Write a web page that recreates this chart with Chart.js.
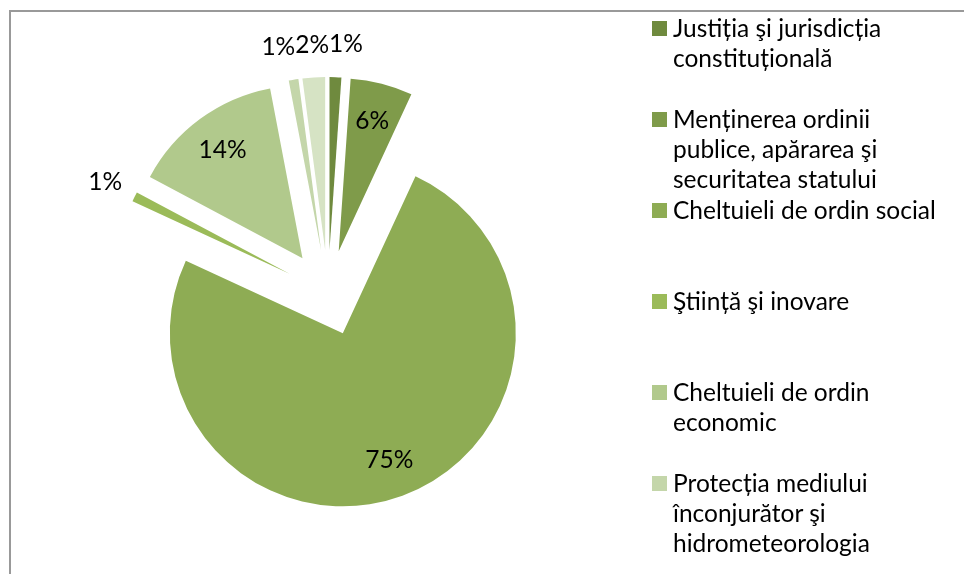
<!DOCTYPE html>
<html>
<head>
<meta charset="utf-8">
<script src="https://cdn.jsdelivr.net/npm/chart.js@4.4.1/dist/chart.umd.min.js"></script>
<style>
    html, body { margin: 0; padding: 0; background: #fff; overflow: hidden; }
    #wrap { position: relative; width: 964px; height: 574px; overflow: hidden; }
    #frame {
        position: absolute; left: 9px; top: 10px; right: -10px; bottom: -10px;
        border-top: 2px solid #999; border-left: 2px solid #999;
    }
    #pie { position: absolute; left: 0; top: 0; }
    /* the original legend runs past the bottom edge: only six entries show */
    #legend { position: absolute; left: 0; top: 0; width: 964px; height: 560px; overflow: hidden; }
    .item { position: absolute; left: 652px; font: 24.5px Lato, sans-serif; line-height: 30px; color: #000; }
    .box { position: absolute; left: 0; top: 8px; width: 15px; height: 15px; }
    .txt { position: absolute; left: 21px; top: 0; white-space: nowrap; }
</style>
</head>
<body>
<div id="wrap">
    <div id="frame"></div>
    <canvas id="pie" width="964" height="574"></canvas>
    <div id="legend"></div>
</div>
<script>
// categories in drawing order (clockwise from 12 o'clock)
const categories = [
    ["Justiția şi jurisdicția", "constituțională"],
    ["Menținerea ordinii", "publice, apărarea şi", "securitatea statului"],
    ["Cheltuieli de ordin social"],
    ["Ştiință şi inovare"],
    ["Cheltuieli de ordin", "economic"],
    ["Protecția mediului", "înconjurător şi", "hidrometeorologia"],
    ["Alte cheltuieli"],
];
const shares = [1.1, 5.8, 75.0, 0.9, 14.2, 0.9, 2.1];
const sliceColors = ["#6F8A3E", "#7F9B4A", "#8EAC54", "#9BBB59", "#B1C98C", "#C4D6AA", "#D6E3C4"];

// pull every slice out from the centre (the library draws the arc, we just shift it)
const explodePlugin = {
    id: "explode",
    beforeDatasetDraw(chart, args, opts) {
        const ctx = chart.ctx;
        args.meta.data.forEach((arc) => {
            const mid = (arc.startAngle + arc.endAngle) / 2;
            ctx.save();
            ctx.translate(Math.cos(mid) * opts.distance, Math.sin(mid) * opts.distance);
            arc.draw(ctx);
            ctx.restore();
        });
        return false;
    },
};

// percentage labels, small slices get theirs outside the pie
const pctLabels = {
    id: "pctLabels",
    afterDatasetsDraw(chart, args, opts) {
        const ctx = chart.ctx;
        const meta = chart.getDatasetMeta(0);
        const values = chart.data.datasets[0].data;
        const total = values.reduce((a, b) => a + b, 0);
        const shift = chart.options.plugins.explode.distance;

        ctx.save();
        ctx.font = opts.font;
        const items = meta.data.map((arc, i) => {
            const mid = (arc.startAngle + arc.endAngle) / 2;
            const pct = (values[i] / total) * 100;
            const outside = pct < opts.minInside;
            const r = shift + arc.outerRadius * (outside ? opts.outside : opts.inside);
            const text = Math.round(pct) + "%";
            return {
                text,
                outside,
                x: arc.x + Math.cos(mid) * r,
                y: arc.y + Math.sin(mid) * r,
                w: ctx.measureText(text).width,
            };
        });

        // spread outside labels that sit on top of each other
        const out = items.filter((it) => it.outside).sort((a, b) => a.x - b.x);
        for (let pass = 0; pass < 20; pass++) {
            for (let k = 1; k < out.length; k++) {
                const a = out[k - 1];
                const b = out[k];
                const need = (a.w + b.w) / 2 - (b.x - a.x);
                if (need > 0 && Math.abs(a.y - b.y) < 24) {
                    a.x -= need / 2;
                    b.x += need / 2;
                }
            }
        }

        ctx.fillStyle = "#000";
        ctx.textAlign = "center";
        ctx.textBaseline = "middle";
        items.forEach((it) => ctx.fillText(it.text, it.x, it.y));
        ctx.restore();
    },
};

new Chart(document.getElementById("pie"), {
    type: "pie",
    data: {
        labels: categories,
        datasets: [
            {
                data: shares,
                backgroundColor: sliceColors,
                borderWidth: 0,
            },
        ],
    },
    options: {
        responsive: false,
        animation: false,
        radius: 173,
        layout: { padding: { left: 0, right: 308, top: 12, bottom: 0 } },
        plugins: {
            legend: { display: false },
            tooltip: { enabled: false },
            explode: { distance: 43 },
            pctLabels: { font: "24.5px Lato, sans-serif", minInside: 3, inside: 0.78, outside: 1.19 },
        },
    },
    plugins: [explodePlugin, pctLabels],
});

// legend on the right, one entry every 91px like the original
const legend = document.getElementById("legend");
categories.forEach((lines, i) => {
    const item = document.createElement("div");
    item.className = "item";
    item.style.top = 13 + 91 * i + "px";
    item.innerHTML =
        `<div class="box" style="background:${sliceColors[i]}"></div>` +
        `<div class="txt">${lines.join("<br>")}</div>`;
    legend.appendChild(item);
});
</script>
</body>
</html>
